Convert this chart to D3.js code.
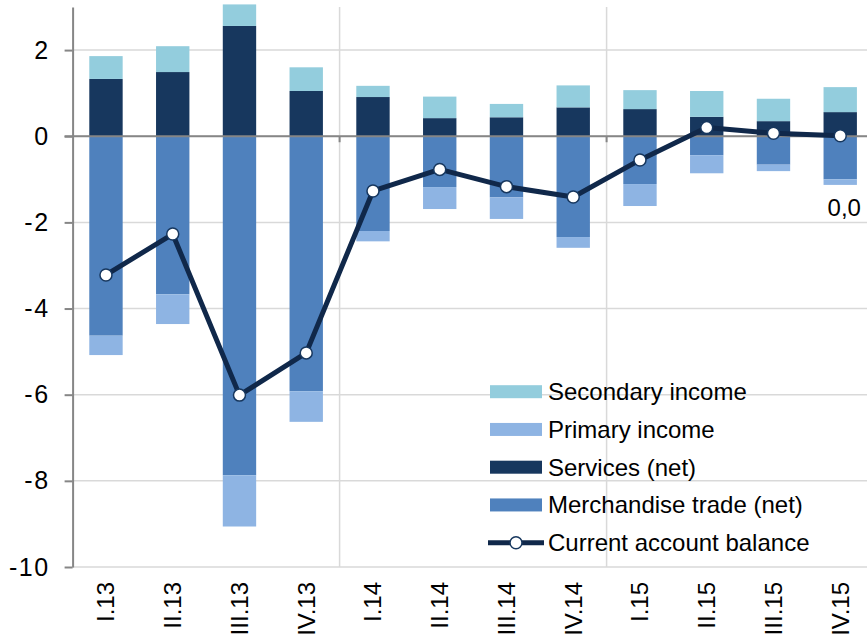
<!DOCTYPE html>
<html>
<head>
<meta charset="utf-8">
<script src="https://cdn.jsdelivr.net/npm/d3@7"></script>
<style>
body { margin: 0; background: #fff; }
svg { display: block; font-family: "Liberation Sans", Arial, sans-serif; }
</style>
</head>
<body>
<script>
// quarters
var categories = ["I.13", "II.13", "III.13", "IV.13", "I.14", "II.14", "III.14", "IV.14", "I.15", "II.15", "III.15", "IV.15"];

var merchandise = [-4.63, -3.67, -7.87, -5.92, -2.20, -1.18, -1.42, -2.34, -1.11, -0.44, -0.66, -1.00];
var services = [1.33, 1.49, 2.56, 1.05, 0.91, 0.42, 0.44, 0.67, 0.63, 0.45, 0.35, 0.56];
var primary = [-0.45, -0.69, -1.19, -0.71, -0.24, -0.51, -0.50, -0.25, -0.51, -0.42, -0.15, -0.13];
var secondary = [0.53, 0.60, 0.50, 0.55, 0.26, 0.50, 0.31, 0.51, 0.44, 0.60, 0.52, 0.58];
var balance = [-3.22, -2.27, -6.01, -5.03, -1.27, -0.77, -1.17, -1.41, -0.55, 0.20, 0.07, 0.01];

var yTicks = [-10, -8, -6, -4, -2, 0, 2];
var yDomain = [-10, 3];

var seriesNames = ["Merchandise trade (net)", "Services (net)", "Primary income", "Secondary income"];
var seriesColors = ["#4f81bd", "#17375e", "#8eb4e3", "#93cddd"];
var lineName = "Current account balance";

chart();

function chart()
{
    var width = 867,
        height = 643;

    var svg = d3.select("body").append("svg")
        .attr("width", width)
        .attr("height", height);

    var x = d3.scaleBand()
        .domain(categories)
        .range([72.6, 873.6])
        .paddingInner(0.5)
        .paddingOuter(0.25);

    var y = d3.scaleLinear()
        .domain(yDomain)
        .range([567, 7]);

    // rows for the stack
    var rows = categories.map(function (c, i)
    {
        return { cat: c, m: merchandise[i], s: services[i], p: primary[i], sec: secondary[i] };
    });

    var stack = d3.stack()
        .keys(["m", "s", "p", "sec"])
        .offset(d3.stackOffsetDiverging)(rows);

    // boundary of a band (year separators)
    function edge(i)
    {
        return x(categories[0]) + x.bandwidth() / 2 - x.step() / 2 + i * x.step();
    }

    var grid = svg.append("g");

    grid.selectAll(".hgrid")
        .data(yTicks)
        .enter().append("line")
        .attr("x1", x.range()[0])
        .attr("x2", width)
        .attr("y1", function (d) { return y(d); })
        .attr("y2", function (d) { return y(d); })
        .attr("stroke", "#d9d9d9")
        .attr("stroke-width", 1.5);

    grid.selectAll(".vgrid")
        .data([4, 8, 12])
        .enter().append("line")
        .attr("x1", function (d) { return edge(d); })
        .attr("x2", function (d) { return edge(d); })
        .attr("y1", y(yDomain[1]))
        .attr("y2", y(yDomain[0]))
        .attr("stroke", "#d9d9d9")
        .attr("stroke-width", 1.5);

    var layer = svg.selectAll(".layer")
        .data(stack)
        .enter().append("g")
        .attr("fill", function (d, i) { return seriesColors[i]; });

    layer.selectAll("rect")
        .data(function (d) { return d; })
        .enter().append("rect")
        .attr("x", function (d) { return x(d.data.cat); })
        .attr("width", x.bandwidth())
        .attr("y", function (d) { return y(Math.max(d[0], d[1])); })
        .attr("height", function (d) { return Math.abs(y(d[0]) - y(d[1])); });

    // zero line with year ticks
    svg.append("line")
        .attr("x1", x.range()[0] - 8)
        .attr("x2", width)
        .attr("y1", y(0))
        .attr("y2", y(0))
        .attr("stroke", "#868686")
        .attr("stroke-width", 2);

    svg.selectAll(".xtick")
        .data([4, 8])
        .enter().append("line")
        .attr("x1", function (d) { return edge(d); })
        .attr("x2", function (d) { return edge(d); })
        .attr("y1", y(0))
        .attr("y2", y(0) + 6)
        .attr("stroke", "#868686")
        .attr("stroke-width", 2);

    // y axis, plain hyphen for minus
    var yAxis = d3.axisLeft(y)
        .tickValues(yTicks)
        .tickFormat(function (d) { return String(d); })
        .tickSize(8)
        .tickSizeOuter(0)
        .tickPadding(15);

    var ya = svg.append("g")
        .attr("transform", "translate(" + x.range()[0] + ",0)")
        .call(yAxis);

    ya.select(".domain").attr("stroke", "#868686").attr("stroke-width", 2);
    ya.selectAll(".tick line").attr("stroke", "#868686").attr("stroke-width", 2);
    ya.selectAll(".tick text")
        .attr("font-size", 25)
        .attr("letter-spacing", 1.5)
        .attr("fill", "#000")
        .attr("font-family", "Liberation Sans, Arial, sans-serif");

    // x axis labels at the bottom
    var xAxis = d3.axisBottom(x).tickSize(0);

    var xa = svg.append("g")
        .attr("transform", "translate(0," + y(yDomain[0]) + ")")
        .call(xAxis);

    xa.select(".domain").remove();
    xa.selectAll(".tick text")
        .attr("font-size", 24)
        .attr("fill", "#000")
        .attr("font-family", "Liberation Sans, Arial, sans-serif")
        .attr("transform", "rotate(-90)")
        .attr("text-anchor", "end")
        .attr("x", -15)
        .attr("y", 0)
        .attr("dy", "0.35em");

    // current account line
    var line = d3.line()
        .x(function (d, i) { return x(categories[i]) + x.bandwidth() / 2; })
        .y(function (d) { return y(d); });

    svg.append("path")
        .datum(balance)
        .attr("d", line)
        .attr("fill", "none")
        .attr("stroke", "#10284a")
        .attr("stroke-width", 5)
        .attr("stroke-linejoin", "round");

    svg.selectAll(".dot")
        .data(balance)
        .enter().append("circle")
        .attr("cx", function (d, i) { return x(categories[i]) + x.bandwidth() / 2; })
        .attr("cy", function (d) { return y(d); })
        .attr("r", 6)
        .attr("fill", "#fff")
        .attr("stroke", "#17375e")
        .attr("stroke-width", 1.5);

    // label of last value
    var last = balance.length - 1;
    svg.append("text")
        .attr("x", x(categories[last]) + x.bandwidth() / 2 + 4)
        .attr("y", y(balance[last]) + 80)
        .attr("text-anchor", "middle")
        .attr("font-size", 24)
        .text(d3.format(".1f")(balance[last]).replace(".", ","));

    // legend
    var legendItems = [
        { name: seriesNames[3], color: seriesColors[3] },
        { name: seriesNames[2], color: seriesColors[2] },
        { name: seriesNames[1], color: seriesColors[1] },
        { name: seriesNames[0], color: seriesColors[0] },
        { name: lineName, line: true }
    ];

    var legend = svg.selectAll(".legend")
        .data(legendItems)
        .enter().append("g")
        .attr("transform", function (d, i) { return "translate(490," + (391.7 + i * 37.75) + ")"; });

    legend.filter(function (d) { return !d.line; })
        .append("rect")
        .attr("x", 0)
        .attr("y", -6.5)
        .attr("width", 52)
        .attr("height", 13)
        .attr("fill", function (d) { return d.color; });

    var ll = legend.filter(function (d) { return d.line; });
    ll.append("line")
        .attr("x1", -2)
        .attr("x2", 54)
        .attr("stroke", "#10284a")
        .attr("stroke-width", 5);
    ll.append("circle")
        .attr("cx", 26)
        .attr("r", 6)
        .attr("fill", "#fff")
        .attr("stroke", "#17375e")
        .attr("stroke-width", 1.5);

    legend.append("text")
        .attr("x", 58)
        .attr("dy", "0.35em")
        .attr("font-size", 24)
        .attr("fill", "#000")
        .text(function (d) { return d.name; });
}
</script>
</body>
</html>
